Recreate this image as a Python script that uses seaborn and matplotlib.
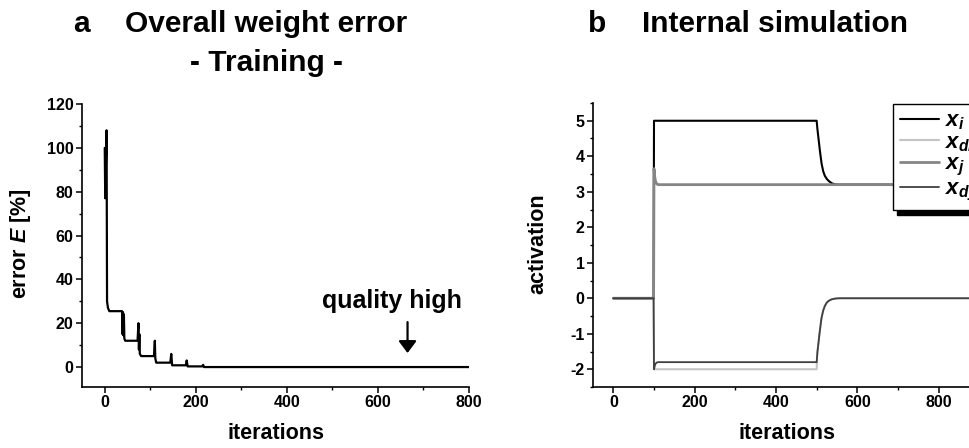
import numpy as np
import pandas as pd
import matplotlib
matplotlib.use("Agg")
import matplotlib.pyplot as plt
from matplotlib.ticker import MultipleLocator
import seaborn as sns

# ---------------- data ----------------
# panel a: overall weight error during training
err_iter = [0, 1, 4, 5, 7, 10, 38, 39, 40, 41, 42, 43, 45, 72, 74, 75, 76, 77, 80,
            108, 110, 111, 113, 144, 146, 148, 178, 180, 182, 214, 216, 218, 800]
err_val = [100, 77, 108, 30, 27, 25.5, 25.5, 15, 25, 14.5, 24, 13, 12, 12, 20, 8, 15, 6, 5,
           5, 12, 4, 2, 2, 6, 0.8, 0.8, 3, 0.3, 0.3, 1, 0, 0]

# panel b: internal simulation
sim_iter = [0, 99, 100, 102, 104, 107, 110, 500, 501, 502, 505, 508, 512, 516, 520,
            525, 530, 537, 545, 555, 1000]
x_i = [0, 0, 5, 5, 5, 5, 5, 5, 4.87, 4.75, 4.45, 4.15, 3.8, 3.58, 3.45,
       3.36, 3.3, 3.24, 3.21, 3.2, 3.2]
x_dis = [0, 0, -2, -2, -2, -2, -2, -2, -1.65, -1.5, -1.2, -0.9, -0.55, -0.35, -0.22,
         -0.12, -0.07, -0.03, -0.01, 0, 0]
x_j = [0, 0, 3.65, 3.4, 3.28, 3.22, 3.2, 3.2, 3.2, 3.2, 3.2, 3.2, 3.2, 3.2, 3.2,
       3.2, 3.2, 3.2, 3.2, 3.2, 3.2]
x_dyn = [0, 0, -2, -1.9, -1.84, -1.81, -1.8, -1.8, -1.65, -1.5, -1.2, -0.9, -0.55, -0.35, -0.22,
         -0.12, -0.07, -0.03, -0.01, 0, 0]

series_labels = [r"$x_{i}$", r"$x_{dis}$", r"$x_{j}$", r"$x_{dyn}$"]
series_values = [x_i, x_dis, x_j, x_dyn]
series_colors = ["#000000", "#c4c4c4", "#858585", "#404040"]
series_widths = [1.5, 1.5, 2.0, 1.3]

# ---------------- style ----------------
sns.set_style("ticks")
plt.rcParams["font.family"] = ["Liberation Sans", "DejaVu Sans"]
plt.rcParams["font.weight"] = "bold"
plt.rcParams["axes.labelweight"] = "bold"
plt.rcParams["text.color"] = "black"
plt.rcParams["axes.labelcolor"] = "black"
plt.rcParams["xtick.color"] = "black"
plt.rcParams["ytick.color"] = "black"
plt.rcParams["axes.unicode_minus"] = False
plt.rcParams["mathtext.fontset"] = "custom"
plt.rcParams["mathtext.it"] = "Liberation Sans:italic:bold"
plt.rcParams["mathtext.rm"] = "Liberation Sans:bold"
plt.rcParams["mathtext.bf"] = "Liberation Sans:bold"

fig = plt.figure(figsize=(9.7, 4.48), dpi=100)
W, H = 970.0, 448.0
ax1 = fig.add_axes([82 / W, 1 - 387 / H, (469 - 82) / W, (387 - 104) / H])
ax2 = fig.add_axes([593 / W, 1 - 387 / H, (1020 - 593) / W, (387 - 103) / H])

# ---------------- panel a ----------------
df_err = pd.DataFrame({"iterations": err_iter, "error": err_val})
sns.lineplot(data=df_err, x="iterations", y="error", ax=ax1, color="black",
             linewidth=1.6, estimator=None, sort=False)
ax1.set_xlim(-50, 800)
ax1.set_ylim(-9.1, 120)
ax1.xaxis.set_major_locator(MultipleLocator(200))
ax1.xaxis.set_minor_locator(MultipleLocator(100))
ax1.yaxis.set_major_locator(MultipleLocator(20))
ax1.yaxis.set_minor_locator(MultipleLocator(10))
ax1.set_xlabel("iterations", fontsize=15.5, fontweight="bold")
ax1.set_ylabel(r"error $E$ [%]", fontsize=15.5, fontweight="bold")
ax1.xaxis.set_label_coords(0.501, -0.127)
ax1.yaxis.set_label_coords(-0.127, 0.505)
ax1.text(630, 27, "quality high", ha="center", va="baseline", fontsize=18,
         fontweight="bold")
ax1.annotate("", xy=(665, 6.4), xytext=(665, 20.5),
             arrowprops=dict(arrowstyle="-|>,head_length=0.6,head_width=0.45",
                             color="black", lw=1.6, mutation_scale=12,
                             shrinkA=0, shrinkB=0))

# ---------------- panel b ----------------
rows = []
for lab, vals in zip(series_labels, series_values):
    for t, v in zip(sim_iter, vals):
        rows.append((lab, t, v))
df_sim = pd.DataFrame(rows, columns=["series", "iterations", "activation"])
for lab, col, lw in zip(series_labels, series_colors, series_widths):
    sns.lineplot(data=df_sim[df_sim["series"] == lab], x="iterations", y="activation",
                 ax=ax2, color=col, linewidth=lw, estimator=None, sort=False, label=lab)
ax2.set_xlim(-50, 1000)
ax2.set_ylim(-2.5, 5.5)
ax2.xaxis.set_major_locator(MultipleLocator(200))
ax2.xaxis.set_minor_locator(MultipleLocator(100))
ax2.yaxis.set_major_locator(MultipleLocator(1))
ax2.yaxis.set_minor_locator(MultipleLocator(0.5))
ax2.set_xlabel("iterations", fontsize=15.5, fontweight="bold")
ax2.set_ylabel("activation", fontsize=15.5, fontweight="bold")
ax2.xaxis.set_label_coords(0.454, -0.127)
ax2.yaxis.set_label_coords(-0.105, 0.505)

handles = ax2.get_lines()[:4]
if ax2.get_legend() is not None:
    ax2.get_legend().remove()
leg = ax2.legend(handles, series_labels, loc="upper left",
                 bbox_to_anchor=(893 / W, 1 - 104 / H), bbox_transform=fig.transFigure,
                 borderaxespad=0, frameon=True, fancybox=False, fontsize=16,
                 handlelength=1.75, handletextpad=0.3, labelspacing=0.0,
                 borderpad=0.3,
                 shadow={"ox": 3, "oy": -4, "color": "black", "alpha": 1})
leg.get_frame().set_edgecolor("black")
leg.get_frame().set_linewidth(1.0)
leg.get_frame().set_facecolor("white")
leg.get_frame().set_alpha(1)

for ax in (ax1, ax2):
    sns.despine(ax=ax)
    for s in ("left", "bottom"):
        ax.spines[s].set_linewidth(1.2)
        ax.spines[s].set_color("black")
    ax.tick_params(which="major", direction="out", length=4, width=1.1,
                   labelsize=11.5, colors="black", pad=2)
    ax.tick_params(which="minor", direction="out", length=2.2, width=1.0, colors="black")
    for lbl in ax.get_xticklabels() + ax.get_yticklabels():
        lbl.set_fontweight("bold")

# ---------------- titles ----------------
tkw = dict(fontsize=21.5, fontweight="bold", va="baseline", color="black")
fig.text(81 / W, 1 - 32 / H, "a", ha="center", **tkw)
fig.text(125 / W, 1 - 32 / H, "Overall weight error", ha="left", **tkw)
fig.text(267 / W, 1 - 71 / H, "- Training -", ha="center", **tkw)
fig.text(597 / W, 1 - 32 / H, "b", ha="center", **tkw)
fig.text(642 / W, 1 - 32 / H, "Internal simulation", ha="left", **tkw)

fig.savefig("out.png", dpi=100)
